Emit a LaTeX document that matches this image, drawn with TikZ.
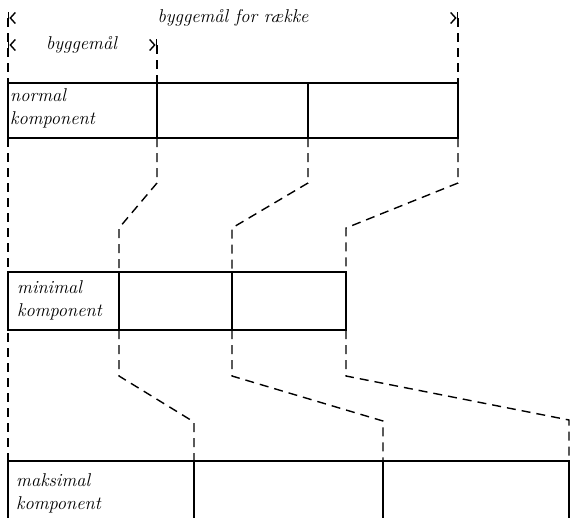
\documentclass[tikz,border=0pt]{standalone}
\usepackage{tikz}
\usetikzlibrary{arrows.meta,positioning}

\tikzset{
    cell/.style={draw, line width=1.7pt, inner sep=0pt, outer sep=0pt, minimum height=55pt},
    lbl/.style={font=\fontsize{18.5}{23}\selectfont\itshape, align=left, inner sep=0pt},
    dashline/.style={line width=1.4pt, dash pattern=on 9pt off 6pt},
    dimline/.style={draw=white, line width=0.4pt,
        {Bar[black, width=12pt, line width=1.4pt]Straight Barb[black, length=5pt, width=11pt, line width=1.4pt]}-{Straight Barb[black, length=5pt, width=11pt, line width=1.4pt]Bar[black, width=12pt, line width=1.4pt]}},
}

\begin{document}
\begin{tikzpicture}[x=1pt, y=-1pt]
        \useasboundingbox (0,0) rectangle (570,517);
        \clip (0,0) rectangle (570,517);

        % dimension marks
        \coordinate (rowL) at (8,18);
        \coordinate (rowR) at (458,18);
        \coordinate (partL) at (8,45);
        \coordinate (partR) at (157,45);

        % normal row
        \node[cell, minimum width=149pt, anchor=north west] (n1) at (8,83) {};
        \node[cell, minimum width=151pt, right=0pt of n1] (n2) {};
        \node[cell, minimum width=150pt, right=0pt of n2] (n3) {};

        % minimal row
        \node[cell, minimum width=111pt, minimum height=58pt, anchor=north west] (m1) at (8,272) {};
        \node[cell, minimum width=113pt, minimum height=58pt, right=0pt of m1] (m2) {};
        \node[cell, minimum width=114pt, minimum height=58pt, right=0pt of m2] (m3) {};

        % maksimal row (cut off below)
        \node[cell, minimum width=186pt, minimum height=62pt, anchor=north west] (x1) at (8,461) {};
        \node[cell, minimum width=189pt, minimum height=62pt, right=0pt of x1] (x2) {};
        \node[cell, minimum width=186pt, minimum height=62pt, right=0pt of x2] (x3) {};

        \node[lbl, right=2pt of n1.west, yshift=2pt] {normal\\komponent};
        \node[lbl, right=9pt of m1.west, yshift=1pt] {minimal\\komponent};
        \node[lbl, right=8pt of x1.west, yshift=-1pt] {maksimal\\komponent};

        \draw[dimline] (rowL) -- node[lbl, black] {byggemål for række} (rowR);
        \draw[dimline] (partL) -- node[lbl, black, xshift=-1pt] {byggemål} (partR);

        % guide lines
        \draw[dashline] (rowL) -- (x1.north west);
        \draw[dashline] (rowR) -- (n3.north east);
        \draw[dashline] (partR) -- (n1.north east);

        \draw[dashline] (n1.south east) -- ++(0,45) -- ([yshift=44pt]m1.north east) -- (m1.north east);
        \draw[dashline] (n2.south east) -- ++(0,45) -- ([yshift=44pt]m2.north east) -- (m2.north east);
        \draw[dashline] (n3.south east) -- ++(0,45) -- ([yshift=44pt]m3.north east) -- (m3.north east);

        \draw[dashline] (m1.south east) -- ++(0,46) -- ([yshift=39pt]x1.north east) -- (x1.north east);
        \draw[dashline] (m2.south east) -- ++(0,46) -- ([yshift=40pt]x2.north east) -- (x2.north east);
        \draw[dashline] (m3.south east) -- ++(0,46) -- ([yshift=41pt]x3.north east) -- (x3.north east);
    \end{tikzpicture}
\end{document}
